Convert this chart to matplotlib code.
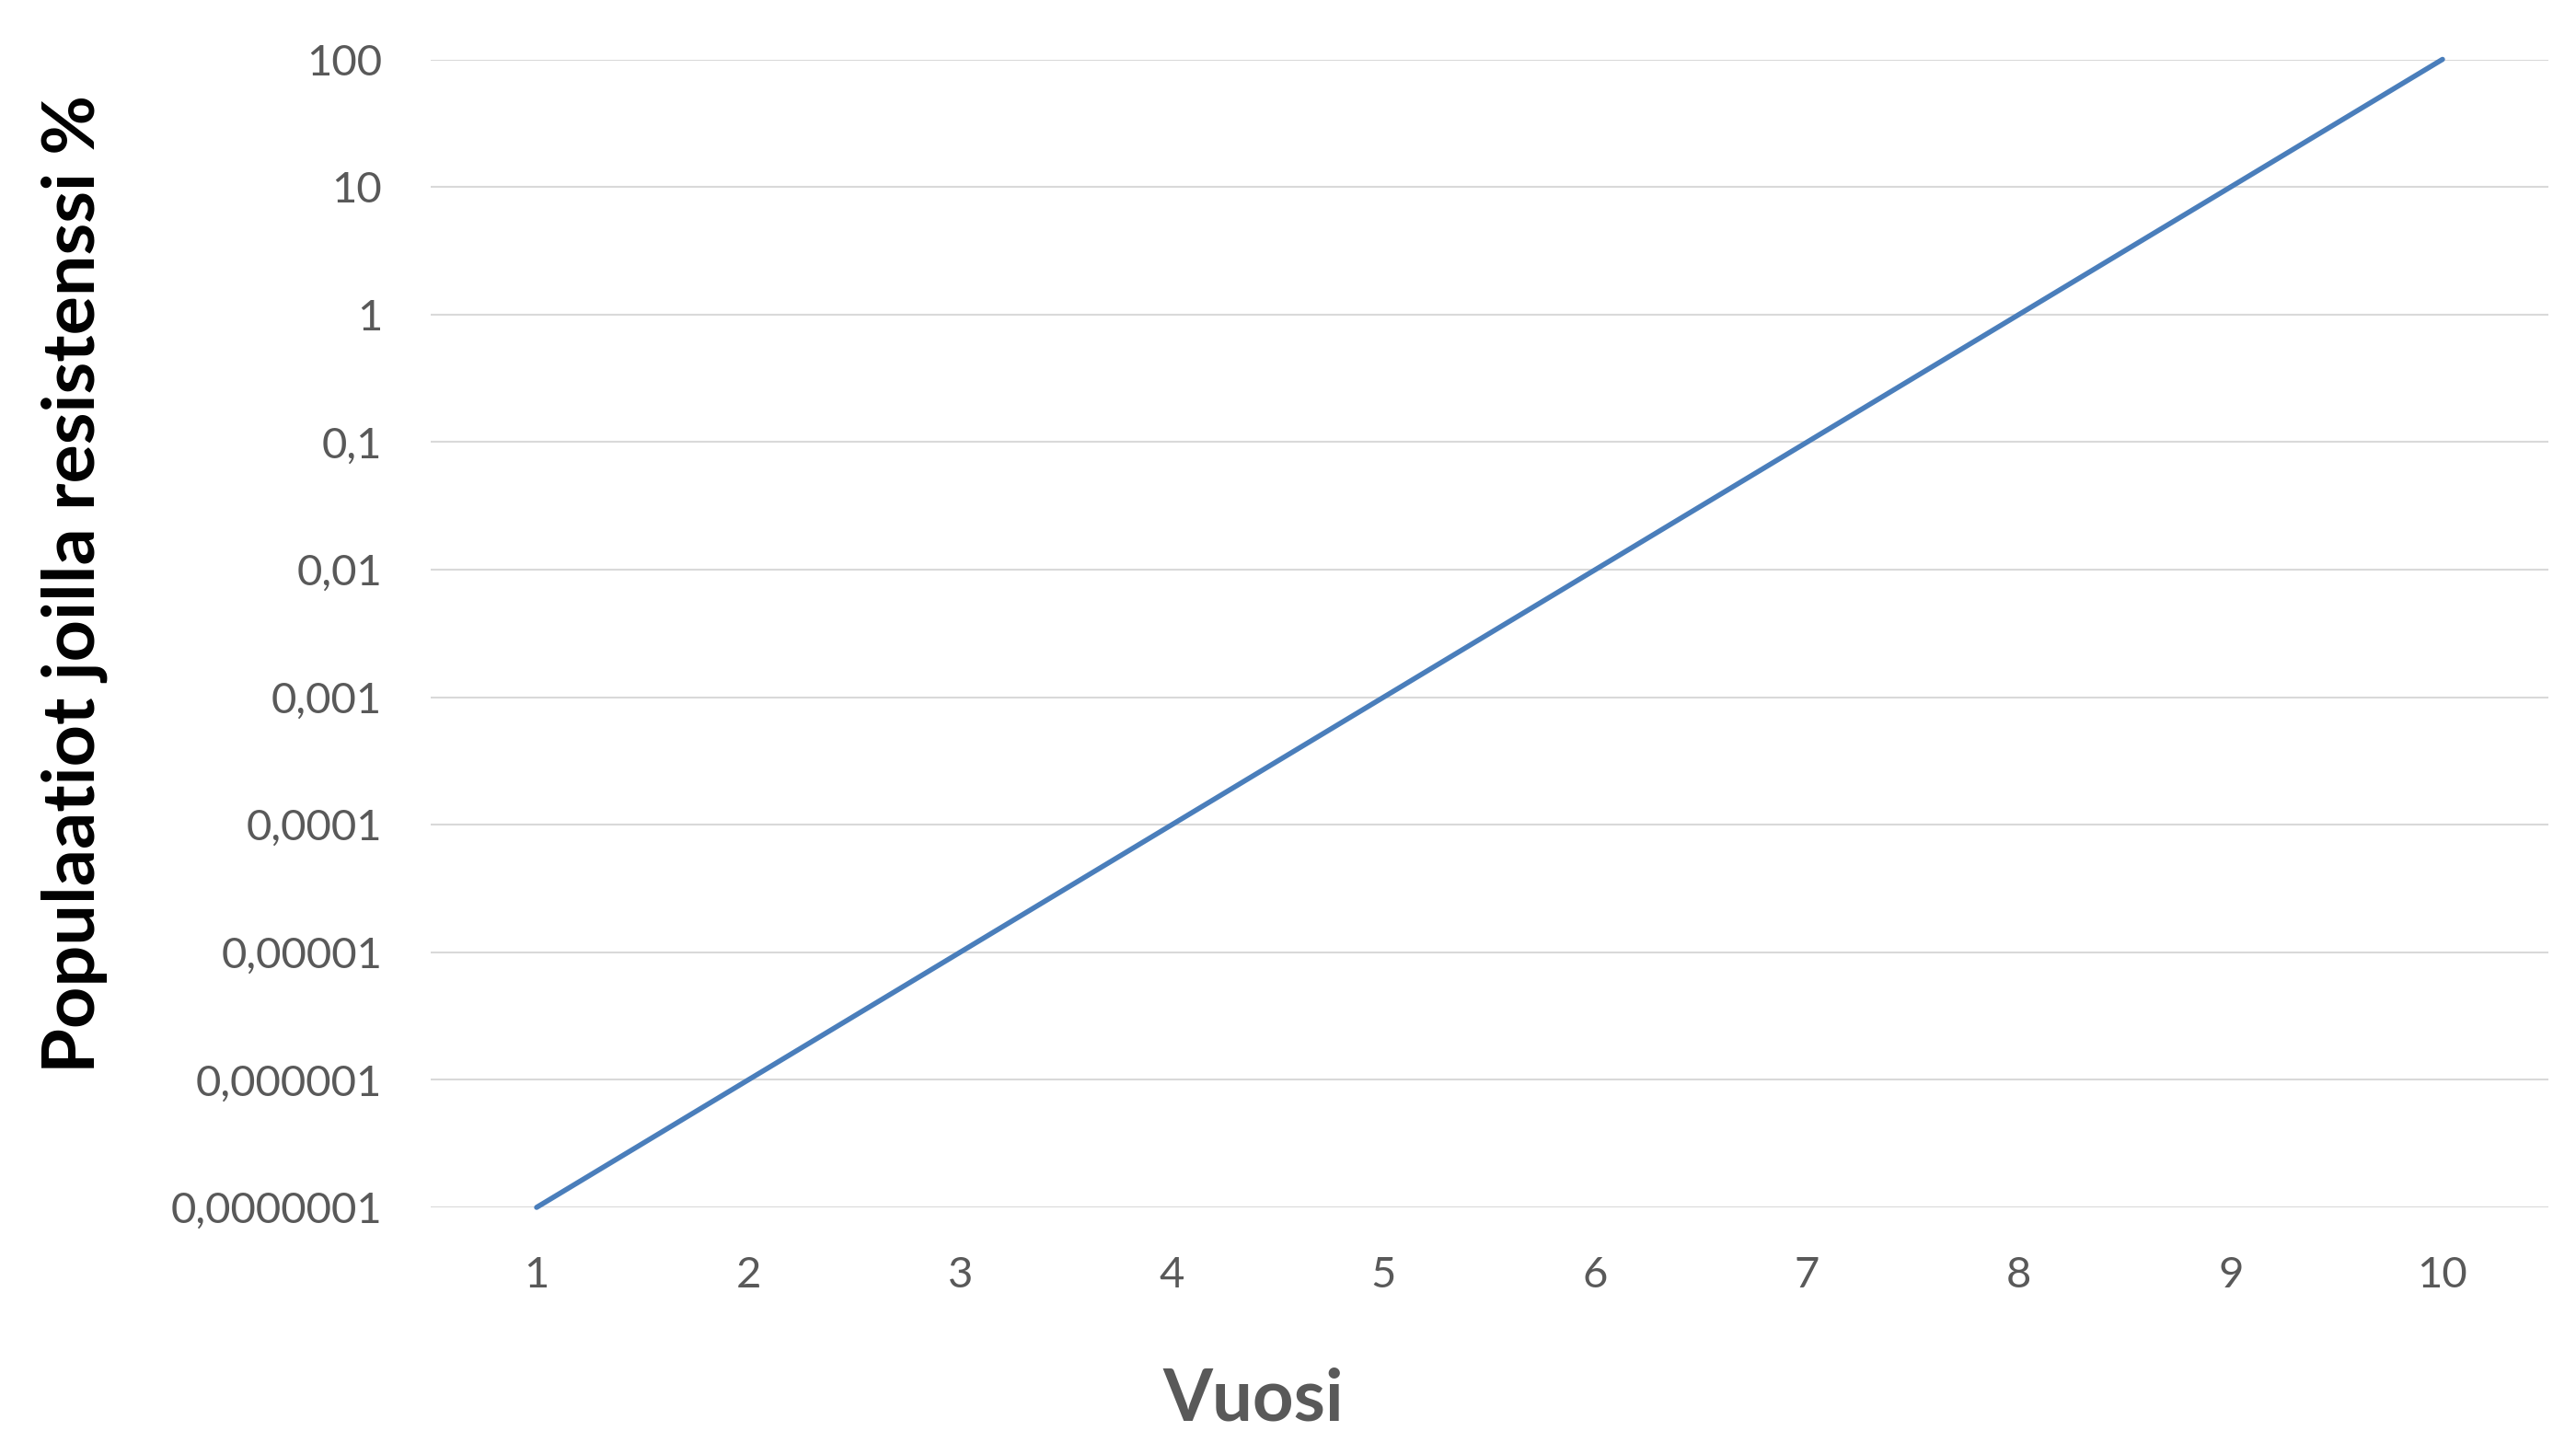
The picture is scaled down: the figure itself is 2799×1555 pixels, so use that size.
import numpy as np
import matplotlib
matplotlib.use('Agg')
import matplotlib.pyplot as plt
from matplotlib.ticker import FixedLocator, FixedFormatter, NullLocator

# Data
years = [1, 2, 3, 4, 5, 6, 7, 8, 9, 10]
resistance_pct = [0.0000001, 0.000001, 0.00001, 0.0001, 0.001,
                  0.01, 0.1, 1, 10, 100]
y_ticks = [0.0000001, 0.000001, 0.00001, 0.0001, 0.001, 0.01, 0.1, 1, 10, 100]
y_tick_labels = ['0,0000001', '0,000001', '0,00001', '0,0001', '0,001',
                 '0,01', '0,1', '1', '10', '100']

plt.rcParams['font.family'] = ['Lato', 'DejaVu Sans']

W, H = 2799, 1555
fig = plt.figure(figsize=(W / 100, H / 100), dpi=100)
# axes box in pixels: left, right, top, bottom
left, right, top, bottom = 468, 2769, 64.5, 1312
ax = fig.add_axes([left / W, 1 - bottom / H, (right - left) / W, (bottom - top) / H])

ax.plot(years, resistance_pct, color='#4a7ebb', linewidth=4.0,
        solid_capstyle='round', clip_on=False, zorder=3)

ax.set_yscale('log')
ax.set_ylim(1e-7, 100)
ax.set_xlim(0.5, 10.5)

ax.yaxis.set_major_locator(FixedLocator(y_ticks))
ax.yaxis.set_major_formatter(FixedFormatter(y_tick_labels))
ax.yaxis.set_minor_locator(NullLocator())
ax.set_xticks(years)
ax.set_xticklabels([str(y) for y in years])

ax.grid(axis='y', color='#d9d9d9', linewidth=1.5)
ax.set_axisbelow(True)
for s in ax.spines.values():
    s.set_visible(False)
ax.tick_params(axis='both', length=0, labelsize=34, labelcolor='#595959')
ax.tick_params(axis='y', pad=38)
ax.tick_params(axis='x', pad=38)

fig.text(1362 / W, 1 - 1521 / H, 'Vuosi', ha='center', va='center',
         fontsize=56, fontweight='bold', color='#595959')
fig.text(81 / W, 1 - 634 / H, 'Populaatiot joilla resistenssi %', ha='center',
         va='center', rotation=90, fontsize=57, fontweight='bold', color='black')

fig.savefig('out.png', dpi=100)
